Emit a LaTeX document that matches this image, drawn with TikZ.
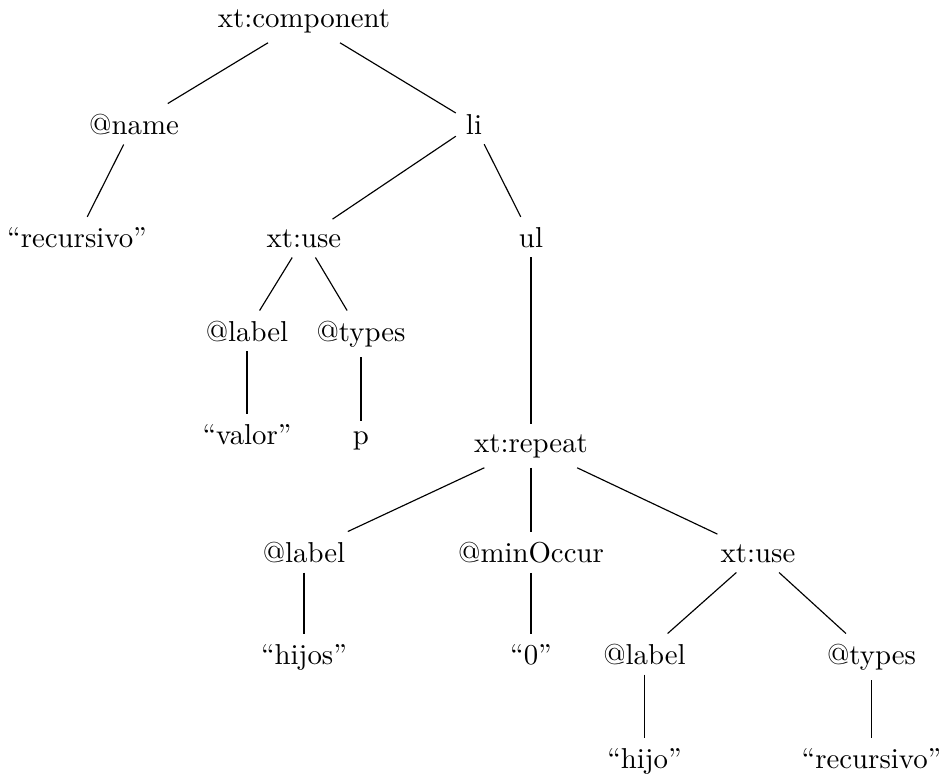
\documentclass[tikz,border=0pt]{standalone}
\begin{document}
\begin{tikzpicture}[x=0.3472pt,y=-0.3472pt,
  tn/.style={anchor=base, inner sep=0.3333em},
  edge/.style={draw, line width=0.4pt}]
\useasboundingbox (0,0) rectangle (942,776);
% level 0
\node[tn] (n0) at (304,27) {xt:component};
% level 1
\node[tn] (name) at (134,134) {@name};
\node[tn] (li) at (474,134) {li};
% level 2
\node[tn] (rec1) at (77,247) {``recursivo''};
\node[tn] (use1) at (304,247) {xt:use};
\node[tn] (ul) at (531,247) {ul};
% level 3
\node[tn] (lab1) at (247,341) {@label};
\node[tn] (typ1) at (361,341) {@types};
% level 4
\node[tn] (valor) at (247,444) {``valor''};
\node[tn] (p) at (361,444) {p};
\node[tn] (rep) at (531,452) {xt:repeat};
% level 5
\node[tn] (lab2) at (304,562) {@label};
\node[tn] (minocc) at (531,562) {@minOccur};
\node[tn] (use2) at (758,562) {xt:use};
% level 6
\node[tn] (hijos) at (304,664) {``hijos''};
\node[tn] (zero) at (531,664) {``0''};
\node[tn] (lab3) at (644.5,664) {@label};
\node[tn] (typ3) at (871.5,664) {@types};
% level 7
\node[tn] (hijo) at (644.5,768) {``hijo''};
\node[tn] (rec2) at (871.5,768) {``recursivo''};
% edges
\draw[edge] (n0) -- (name);
\draw[edge] (n0) -- (li);
\draw[edge] (name) -- (rec1);
\draw[edge] (li) -- (use1);
\draw[edge] (li) -- (ul);
\draw[edge] (use1) -- (lab1);
\draw[edge] (use1) -- (typ1);
\draw[edge] (lab1) -- (valor);
\draw[edge] (typ1) -- (p);
\draw[edge] (ul) -- (rep);
\draw[edge] (rep) -- (lab2);
\draw[edge] (rep) -- (minocc);
\draw[edge] (rep) -- (use2);
\draw[edge] (lab2) -- (hijos);
\draw[edge] (minocc) -- (zero);
\draw[edge] (use2) -- (lab3);
\draw[edge] (use2) -- (typ3);
\draw[edge] (lab3) -- (hijo);
\draw[edge] (typ3) -- (rec2);
\end{tikzpicture}
\end{document}
